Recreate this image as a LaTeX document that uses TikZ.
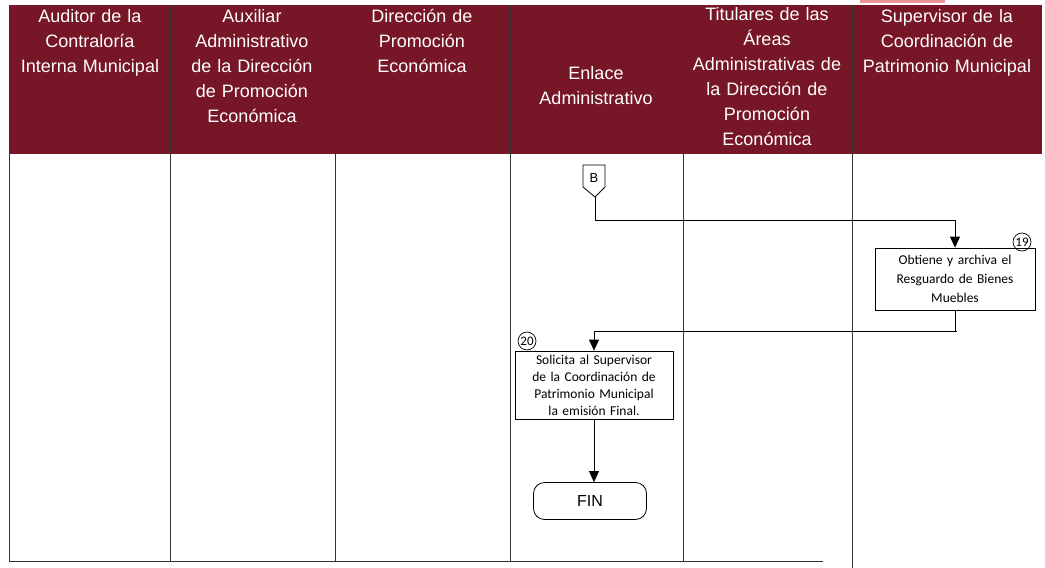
\documentclass[tikz,border=0pt]{standalone}
\usepackage{fontspec}
\setmainfont{Liberation Sans}
\newfontfamily\calib{Carlito}
\usetikzlibrary{arrows.meta}
\definecolor{maroon}{RGB}{118,22,38}
\definecolor{pinkbar}{RGB}{236,150,150}
\tikzset{
  hdr/.style={text=white, align=center, anchor=north, inner sep=0pt,
    font=\fontsize{18}{25}\selectfont},
  lane/.style={line width=0.8pt, draw=black!80},
  procbox/.style={draw, line width=0.8pt, align=center, inner sep=2pt,
    font=\calib\fontsize{13.5}{19}\selectfont},
  numcirc/.style={draw, circle, line width=0.7pt, inner sep=0pt, minimum size=18pt,
    font=\calib\fontsize{13}{13}\selectfont},
  flow/.style={line width=0.8pt, -{Triangle[length=11pt,width=10pt]}},
  plain/.style={line width=0.8pt},
}
\begin{document}
\begin{tikzpicture}[x=1pt,y=-1pt]
\useasboundingbox (0,0) rectangle (1045,568);
\fill[white] (0,0) rectangle (1045,568);
\fill[pinkbar] (860,0) rectangle (945,3);
% header band
\fill[maroon] (9,5) rectangle (1042,154);
% lane lines
\draw[lane] (9,5) -- (9,561);
\foreach \xx in {170,335,510,683} {\draw[lane] (\xx,5) -- (\xx,561);}
\draw[lane] (852,5) -- (852,568);
\draw[lane] (9,561) -- (823,561);
% header texts
\node[hdr, text width=165pt] (h1) at (90,9) {Auditor de la\\Contraloría\\Interna Municipal};
\node[hdr, text width=160pt] (h2) at (252,9) {Auxiliar\\Administrativo\\de la Dirección\\de Promoción\\Económica};
\node[hdr, text width=170pt] (h3) at (422,9) {Dirección de\\Promoción\\Económica};
\node[hdr, text width=170pt, anchor=center] (h4) at (596,86) {Enlace\\Administrativo};
\node[hdr, text width=168pt] (h5) at (767,7) {Titulares de las\\Áreas\\Administrativas de\\la Dirección de\\Promoción\\Económica};
\node[hdr, text width=190pt] (h6) at (947,9) {Supervisor de la\\Coordinación de\\Patrimonio Municipal};
% off-page connector B
\draw[plain] (583,165) -- (605,165) -- (605,187) -- (595,197) -- (583,187) -- cycle;
\node[font=\fontsize{13}{13}\selectfont, inner sep=0pt] (B) at (594,178) {B};
\coordinate (Btip) at (595,197);
\coordinate (j1) at (595,220);
% process boxes
\node[procbox, minimum width=160pt, minimum height=62pt, text width=150pt] (b19) at (955,279)
  {Obtiene y archiva el\\Resguardo de Bienes\\Muebles};
\node[numcirc] (c19) at (1022,242) {19};
\node[procbox, minimum width=158pt, minimum height=68pt, text width=154pt,
  font=\calib\fontsize{13.5}{17}\selectfont] (b20) at (594,385)
  {Solicita al Supervisor\\de la Coordinación de\\Patrimonio Municipal\\la emisión Final.};
\node[numcirc] (c20) at (527,341) {20};
\coordinate (j2) at (957,331);
% end terminal
\node[draw, line width=0.8pt, rounded corners=11pt, minimum width=113pt, minimum height=37pt,
  font=\fontsize{16}{16}\selectfont] (fin) at (590,501) {FIN};
% connectors
\draw[plain] (Btip) -- (j1);
\draw[flow] (j1) -| (b19.north);
\draw[plain] (b19.south) -- (b19.south |- j2) -- (j2);
\draw[flow] (j2) -| (b20.north);
\draw[flow] (b20.south) -- (b20.south |- fin.north);
\end{tikzpicture}
\end{document}
